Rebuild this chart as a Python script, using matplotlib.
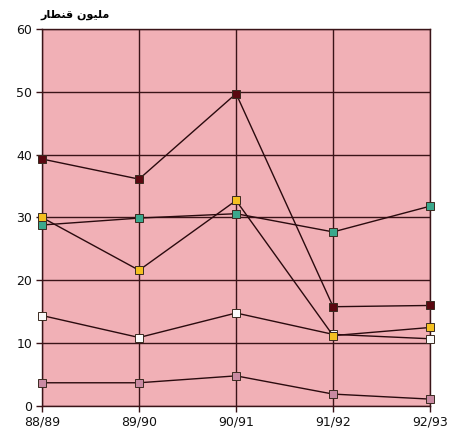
import numpy as np
import matplotlib.pyplot as plt

# pembacaan nilai dari gambar (juta qintar)
seasons = ["88/89", "89/90", "90/91", "91/92", "92/93"]
maroon_vals = [39.3, 36.1, 49.7, 15.8, 16.0]
teal_vals   = [28.8, 29.9, 30.6, 27.7, 31.8]
yellow_vals = [30.0, 21.6, 32.7, 11.2, 12.5]
white_vals  = [14.4, 10.9, 14.8, 11.4, 10.7]
pink_vals   = [3.7, 3.7, 4.8, 1.9, 1.1]

# "مليون قنطار" dalam bentuk presentasi Arab, urutan visual (matplotlib tidak melakukan shaping)
unit_label = "\uFEAD\uFE8E\uFEC4\uFEE8\uFED7 \uFEE5\uFEEE\uFEF4\uFEE0\uFEE3"

BG_PINK   = "#f1b0b6"
LINE_DARK = "#2a0a0e"
GRID_DARK = "#3a1418"

series = [
    (pink_vals,   "#c98aa2"),
    (white_vals,  "#fafafa"),
    (teal_vals,   "#3aa88c"),
    (yellow_vals, "#f4c020"),
    (maroon_vals, "#5a0810"),
]

fig = plt.figure(figsize=(4.54, 4.38), dpi=100)
ax = fig.add_axes([0.0925, 0.073, 0.855, 0.861])
ax.set_facecolor(BG_PINK)

x = np.arange(len(seasons))
for vals, col in series:
    ax.plot(x, vals, color=LINE_DARK, linewidth=1.0, marker="s", markersize=6,
            markerfacecolor=col, markeredgecolor="#3a2a20", markeredgewidth=0.7,
            clip_on=False, zorder=3)

ax.set_xlim(0, len(seasons) - 1)
ax.set_ylim(0, 60)
ax.set_yticks(np.arange(0, 61, 10))
ax.set_xticks(x)
ax.set_xticklabels(seasons)
ax.grid(True, color=GRID_DARK, linewidth=1.0)
ax.set_axisbelow(True)
for s in ax.spines.values():
    s.set_color(GRID_DARK)
    s.set_linewidth(1.0)
ax.tick_params(direction="out", length=4, width=1, color=GRID_DARK,
               labelsize=9, labelcolor="#111111", pad=3)

fig.text(0.088, 0.966, unit_label, fontsize=8, fontweight="bold",
         family=["DejaVu Sans"], ha="left", va="center")

fig.savefig("out.png", dpi=100)
